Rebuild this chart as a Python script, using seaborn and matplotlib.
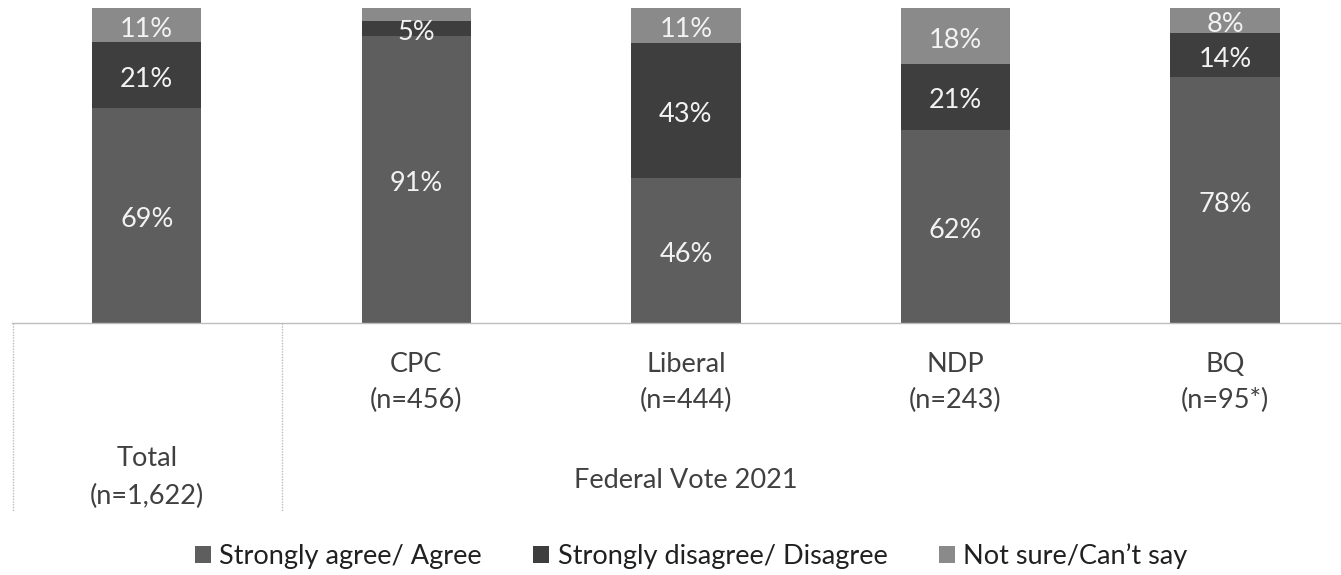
import numpy as np
import pandas as pd
import matplotlib
matplotlib.use("Agg")
import matplotlib.pyplot as plt
from matplotlib.transforms import blended_transform_factory, offset_copy
from matplotlib.patches import Patch
import seaborn as sns

# ---- data ----
categories = ["Total", "CPC", "Liberal", "NDP", "BQ"]
n_labels = ["(n=1,622)", "(n=456)", "(n=444)", "(n=243)", "(n=95*)"]
agree = [69, 91, 46, 62, 78]
disagree = [21, 5, 43, 21, 14]
not_sure = [11, 4, 11, 18, 8]
show_not_sure = [True, False, True, True, True]
series_names = ["Strongly agree/ Agree", "Strongly disagree/ Disagree", "Not sure/Can\u2019t say"]
group_label = "Federal Vote 2021"

# ---- style ----
sns.set_style("white")
plt.rcParams["font.family"] = ["Lato", "DejaVu Sans"]
c_agree = "#5e5e5e"
c_dis = "#3e3e3e"
c_ns = "#8a8a8a"
txt_col = "#404040"
FS = 19.5

df = pd.DataFrame({"cat": categories, "agree": agree, "disagree": disagree, "ns": not_sure})
tot = df[["agree", "disagree", "ns"]].sum(axis=1)
df["a_p"] = df["agree"] / tot * 100
df["d_p"] = df["disagree"] / tot * 100
df["n_p"] = df["ns"] / tot * 100
df["top1"] = df["a_p"]
df["top2"] = df["a_p"] + df["d_p"]
df["top3"] = df["top2"] + df["n_p"]

W, H = 1341, 575
fig = plt.figure(figsize=(W / 100, H / 100), dpi=100)
ax = fig.add_axes([12 / W, 1 - 323 / H, 1 - 12 / W, (323 - 8) / H])

bw = 0.405
for col, c in [("top3", c_ns), ("top2", c_dis), ("top1", c_agree)]:
    sns.barplot(data=df, x="cat", y=col, color=c, saturation=1, width=bw, ax=ax,
                order=categories, linewidth=0, edgecolor="none")

ax.set_ylim(0, 100)
ax.set_xlim(-0.5, 4.43)
ax.set_xlabel("")
ax.set_ylabel("")
ax.set_xticks([])
ax.set_yticks([])
for s in ["top", "right", "left"]:
    ax.spines[s].set_visible(False)
ax.spines["bottom"].set_color("#bdbdbd")
ax.spines["bottom"].set_linestyle((0, (1, 1)))
ax.spines["bottom"].set_linewidth(1.0)

# data labels (slightly below geometric centre, as in the reference)
lab_tr = offset_copy(ax.transData, fig=fig, x=0, y=-4, units="dots")
for i in range(len(categories)):
    ax.text(i, df["a_p"][i] / 2, f"{agree[i]}%", ha="center", va="center", color="#f2f2f2",
            fontsize=FS, transform=lab_tr)
    ax.text(i, df["top1"][i] + df["d_p"][i] / 2, f"{disagree[i]}%", ha="center", va="center",
            color="#f2f2f2", fontsize=FS, transform=lab_tr)
    if show_not_sure[i]:
        ax.text(i, df["top2"][i] + df["n_p"][i] / 2, f"{not_sure[i]}%", ha="center", va="center",
                color="#f2f2f2", fontsize=FS, transform=lab_tr)

# category labels
tr = blended_transform_factory(ax.transData, fig.transFigure)
def fy(py):
    return 1 - py / H

ax.text(0, fy(458), categories[0], transform=tr, ha="center", va="center", fontsize=FS, color=txt_col, clip_on=False)
ax.text(0, fy(496), n_labels[0], transform=tr, ha="center", va="center", fontsize=FS, color=txt_col, clip_on=False)
for i in range(1, len(categories)):
    ax.text(i, fy(365), categories[i], transform=tr, ha="center", va="center", fontsize=FS, color=txt_col, clip_on=False)
    ax.text(i, fy(400), n_labels[i], transform=tr, ha="center", va="center", fontsize=FS, color=txt_col, clip_on=False)
ax.text(2, fy(480), group_label, transform=tr, ha="center", va="center", fontsize=FS, color=txt_col, clip_on=False)

# divider lines
for xv in [-0.497, 0.5]:
    ax.plot([xv, xv], [fy(323), fy(512)], transform=tr, color="#bdbdbd", lw=1.0,
            linestyle=(0, (1, 1)), clip_on=False)

# legend
handles = [Patch(facecolor=c, edgecolor="none") for c in [c_agree, c_dis, c_ns]]
fig.legend(handles, series_names, loc="center", bbox_to_anchor=(691 / W, fy(556)), ncol=3,
           frameon=False, fontsize=FS, handlelength=0.6, handleheight=0.6, handletextpad=0.3,
           columnspacing=1.9, labelcolor="#202020")

fig.savefig("out.png", dpi=100)
